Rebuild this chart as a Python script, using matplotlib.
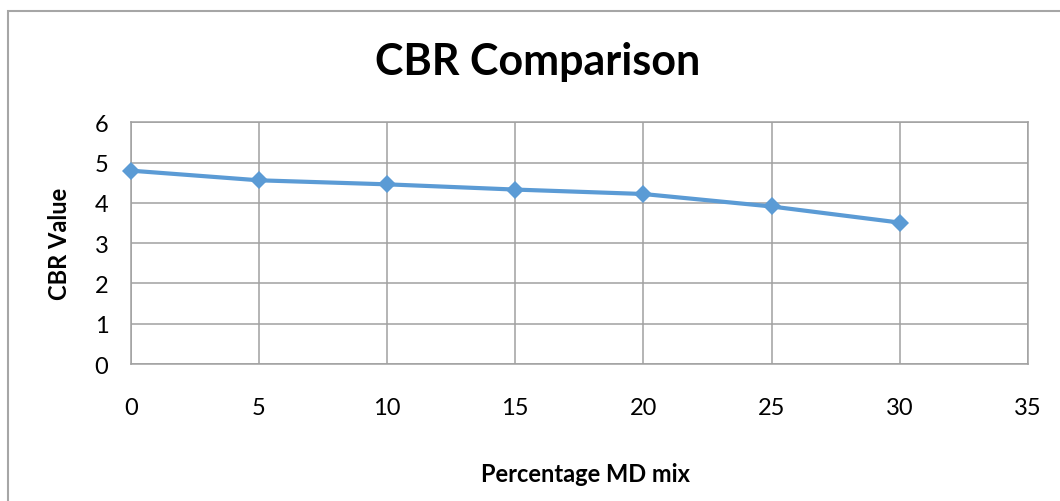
import matplotlib
matplotlib.use("Agg")
import matplotlib.pyplot as plt
from matplotlib.patches import Rectangle

# Datos del gráfico
percent_md = [0, 5, 10, 15, 20, 25, 30]
cbr_value = [4.80, 4.56, 4.46, 4.33, 4.22, 3.91, 3.51]
x_ticks = [0, 5, 10, 15, 20, 25, 30, 35]
y_ticks = [0, 1, 2, 3, 4, 5, 6]

plt.rcParams["font.family"] = ["Lato", "DejaVu Sans"]

fig = plt.figure(figsize=(10.6, 5.02), dpi=100)
ax = fig.add_axes([130.7 / 1060, 1 - 365 / 502, (1028 - 130.7) / 1060, (365 - 123.3) / 502])

# Borde exterior del área del gráfico
fig.patches.append(Rectangle((8 / 1060, -0.2), 1.2, 1.2 - 12 / 502,
                             transform=fig.transFigure, fill=False,
                             edgecolor="#a6a6a6", linewidth=1.5))

ax.plot(percent_md, cbr_value, color="#5b9bd5", linewidth=3,
        marker="D", markersize=9, markeredgewidth=0, clip_on=False, zorder=3)

ax.set_xlim(0, 35)
ax.set_ylim(0, 6)
ax.set_xticks(x_ticks)
ax.set_yticks(y_ticks)
ax.grid(True, color="#a0a0a0", linewidth=1.1)
ax.set_axisbelow(True)
for sp in ax.spines.values():
    sp.set_color("#a0a0a0")
    sp.set_linewidth(1.1)
ax.tick_params(length=0, labelsize=17, colors="black")
ax.tick_params(axis="x", pad=24)
ax.tick_params(axis="y", pad=16)

ax.set_xlabel("Percentage MD mix", fontsize=17, fontweight="bold")
ax.set_ylabel("CBR Value", fontsize=17, fontweight="bold")
ax.xaxis.set_label_coords(0.507, -0.405)
ax.yaxis.set_label_coords(-0.0665, 0.5)

fig.text(538 / 1060, 1 - 62 / 502, "CBR Comparison", fontsize=31,
         fontweight="bold", ha="center", va="center")

fig.savefig("out.png", dpi=100)
